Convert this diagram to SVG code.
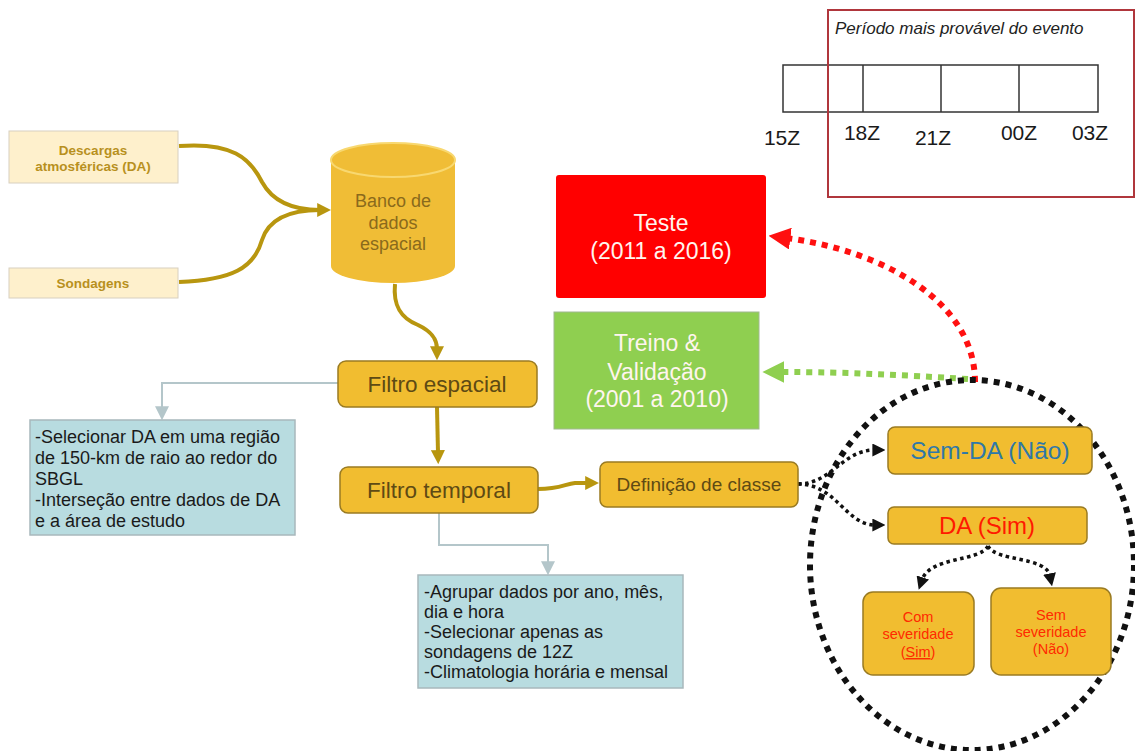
<svg xmlns="http://www.w3.org/2000/svg" width="1135" height="751" viewBox="0 0 1135 751">
<style>
.src{fill:#fef0cc;stroke:#d8d0c0;stroke-width:1}
.srct{font-family:"Liberation Sans",Arial,sans-serif;font-weight:bold;font-size:13.5px;fill:#b8901e;text-anchor:middle}
.gold{fill:#f1bd30;stroke:#9a7b22;stroke-width:1.5}
.gt{font-family:"Liberation Sans",Arial,sans-serif;fill:#5e4a14;text-anchor:middle}
.note{fill:#b8dce0;stroke:#a8b8bc;stroke-width:1.5}
.nt{font-family:"Liberation Sans",Arial,sans-serif;font-size:18px;fill:#1a1a1a}
.gline{fill:none;stroke:#b8960f;stroke-width:4}
.gray{fill:none;stroke:#b4c6ca;stroke-width:2}
.wt{font-family:"Liberation Sans",Arial,sans-serif;font-size:23px;fill:#fff5ee;text-anchor:middle}
.zt{font-family:"Liberation Sans",Arial,sans-serif;font-size:21px;fill:#1a1a1a;text-anchor:middle}
.bk{fill:none;stroke:#111;stroke-width:3.5;stroke-dasharray:3.5 3.5}
.rt{font-family:"Liberation Sans",Arial,sans-serif;font-size:14.5px;fill:#ff2a00;text-anchor:middle}
.bt{font-family:"Liberation Sans",Arial,sans-serif;font-size:18px;fill:#8a6a1c;text-anchor:middle}
</style>
<defs>
<marker id="mg" viewBox="0 0 10 10" refX="2" refY="5" markerWidth="14" markerHeight="14" markerUnits="userSpaceOnUse" orient="auto"><path d="M0,0 L10,5 L0,10 z" fill="#b8960f"/></marker>
<marker id="ml" viewBox="0 0 10 10" refX="2" refY="5" markerWidth="14" markerHeight="14" markerUnits="userSpaceOnUse" orient="auto"><path d="M0,0 L10,5 L0,10 z" fill="#b4c6ca"/></marker>
<marker id="mr" viewBox="0 0 10 10" refX="2" refY="5" markerWidth="22" markerHeight="22" markerUnits="userSpaceOnUse" orient="auto"><path d="M0,0 L10,5 L0,10 z" fill="#ff1010"/></marker>
<marker id="mgr" viewBox="0 0 10 10" refX="2" refY="5" markerWidth="22" markerHeight="22" markerUnits="userSpaceOnUse" orient="auto"><path d="M0,0 L10,5 L0,10 z" fill="#8fcf50"/></marker>
<marker id="mb" viewBox="0 0 10 10" refX="2" refY="5" markerWidth="13" markerHeight="13" markerUnits="userSpaceOnUse" orient="auto"><path d="M0,0 L10,5 L0,10 z" fill="#111"/></marker>
</defs>
<rect width="1135" height="751" fill="#ffffff"/>

<g id="periodo">
<rect x="783" y="65" width="315" height="47" fill="none" stroke="#333" stroke-width="1.5"/>
<line x1="863" y1="65" x2="863" y2="112" stroke="#333" stroke-width="1.5"/>
<line x1="941" y1="65" x2="941" y2="112" stroke="#333" stroke-width="1.5"/>
<line x1="1019" y1="65" x2="1019" y2="112" stroke="#333" stroke-width="1.5"/>
<rect x="828" y="10" width="306" height="187" fill="none" stroke="#b0363c" stroke-width="2"/>
<text x="835" y="34" font-family="Liberation Sans,Arial,sans-serif" font-style="italic" font-size="17px" fill="#222">Período mais provável do evento</text>
<text class="zt" x="782" y="145">15Z</text>
<text class="zt" x="862" y="140">18Z</text>
<text class="zt" x="933" y="145">21Z</text>
<text class="zt" x="1019" y="140">00Z</text>
<text class="zt" x="1090" y="140">03Z</text>
</g>

<g id="connectors">
<path class="gline" d="M179,146 C232,142 250,158 262,182 C274,204 298,210 320,210" marker-end="url(#mg)"/>
<path class="gline" d="M179,282 C232,280 254,268 262,240 C270,215 298,210 320,210"/>
<path class="gline" d="M395,284 C393,305 400,318 418,325 C435,333 437,342 437,349" marker-end="url(#mg)" stroke-width="3.5"/>
<path class="gline" d="M437,407 L438,453" marker-end="url(#mg)" stroke-width="3.5"/>
<path class="gline" d="M538,489 C560,489 565,484 575,483 L588,483" marker-end="url(#mg)" stroke-width="3"/>
<path class="gray" d="M338,383 L162,383 L162,409" marker-end="url(#ml)"/>
<path class="gray" d="M439,513 L439,545 L548,545 L548,564" marker-end="url(#ml)"/>
<path fill="none" stroke="#ff1010" stroke-width="6" stroke-dasharray="6 6" d="M975,382 C975,300 880,250 786,238" marker-end="url(#mr)"/>
<path fill="none" stroke="#8fcf50" stroke-width="6" stroke-dasharray="6 6" d="M968,379 C900,375 850,372 780,372" marker-end="url(#mgr)"/>
<ellipse cx="972" cy="565" rx="162" ry="185" fill="none" stroke="#111" stroke-width="6" stroke-dasharray="6 6"/>
<path class="bk" d="M798,484 C832,484 842,450 875,450" marker-end="url(#mb)"/>
<path class="bk" d="M798,484 C836,484 846,525 875,525" marker-end="url(#mb)"/>
<path class="bk" d="M988,546 C980,562 930,556 922,580" marker-end="url(#mb)"/>
<path class="bk" d="M988,546 C996,562 1046,556 1050,576" marker-end="url(#mb)"/>
</g>

<g id="descargas">
<rect class="src" x="9" y="131" width="169" height="52"/>
<text class="srct" x="93" y="155">Descargas</text>
<text class="srct" x="93" y="171">atmosféricas (DA)</text>
</g>
<g id="sondagens">
<rect class="src" x="9" y="268" width="169" height="30"/>
<text class="srct" x="93" y="288">Sondagens</text>
</g>

<g id="banco">
<path d="M331,160 L331,266 A62,17 0 0 0 455,266 L455,160 Z" fill="#f0bd36"/>
<ellipse cx="393" cy="160" rx="62" ry="17" fill="#f0bd36" stroke="#f8d870" stroke-width="2"/>
<text class="bt" x="393" y="207">Banco de</text>
<text class="bt" x="393" y="229">dados</text>
<text class="bt" x="393" y="250">espacial</text>
</g>

<g id="filtro-espacial">
<rect class="gold" x="338" y="361" width="199" height="46" rx="8"/>
<text class="gt" x="437" y="392" font-size="22.5px">Filtro espacial</text>
</g>
<g id="filtro-temporal">
<rect class="gold" x="340" y="467" width="198" height="46" rx="8"/>
<text class="gt" x="439" y="498" font-size="22.5px">Filtro temporal</text>
</g>
<g id="definicao">
<rect class="gold" x="600" y="462" width="198" height="45" rx="7"/>
<text class="gt" x="699" y="491" font-size="19px">Definição de classe</text>
</g>

<g id="nota-espacial">
<rect class="note" x="30" y="420" width="265" height="115"/>
<text class="nt" x="35" y="443">-Selecionar DA em uma região</text>
<text class="nt" x="35" y="464">de 150-km de raio ao redor do</text>
<text class="nt" x="35" y="485">SBGL</text>
<text class="nt" x="35" y="506">-Interseção entre dados de DA</text>
<text class="nt" x="35" y="527">e a área de estudo</text>
</g>
<g id="nota-temporal">
<rect class="note" x="418" y="575" width="265" height="113"/>
<text class="nt" x="424" y="598">-Agrupar dados por ano, mês,</text>
<text class="nt" x="424" y="618">dia e hora</text>
<text class="nt" x="424" y="638">-Selecionar apenas as</text>
<text class="nt" x="424" y="658">sondagens de 12Z</text>
<text class="nt" x="424" y="678">-Climatologia horária e mensal</text>
</g>

<g id="teste">
<rect x="556" y="175" width="210" height="123" rx="3" fill="#ff0000"/>
<text class="wt" x="661" y="231">Teste</text>
<text class="wt" x="661" y="259">(2011 a 2016)</text>
</g>
<g id="treino">
<rect x="554" y="312" width="205" height="117" fill="#8fcf50" stroke="#a0b890" stroke-width="1"/>
<text class="wt" x="657" y="351">Treino &amp;</text>
<text class="wt" x="657" y="380">Validação</text>
<text class="wt" x="657" y="407">(2001 a 2010)</text>
</g>

<g id="sem-da">
<rect class="gold" x="888" y="427" width="204" height="47" rx="7"/>
<text x="990" y="459" font-family="Liberation Sans,Arial,sans-serif" font-size="24.5px" fill="#2f78a8" text-anchor="middle">Sem-DA (Não)</text>
</g>
<g id="da-sim">
<rect class="gold" x="888" y="507" width="199" height="37" rx="6"/>
<text x="987" y="534" font-family="Liberation Sans,Arial,sans-serif" font-size="24px" fill="#ff1a00" text-anchor="middle">DA (Sim)</text>
</g>
<g id="com-severidade">
<rect class="gold" x="863" y="592" width="111" height="83" rx="10"/>
<text class="rt" x="918" y="622">Com</text>
<text class="rt" x="918" y="639">severidade</text>
<text class="rt" x="918" y="657">(<tspan text-decoration="underline">Sim</tspan>)</text>
</g>
<g id="sem-severidade">
<rect class="gold" x="991" y="588" width="120" height="87" rx="10"/>
<text class="rt" x="1051" y="620">Sem</text>
<text class="rt" x="1051" y="637">severidade</text>
<text class="rt" x="1051" y="654">(Não)</text>
</g>
</svg>
